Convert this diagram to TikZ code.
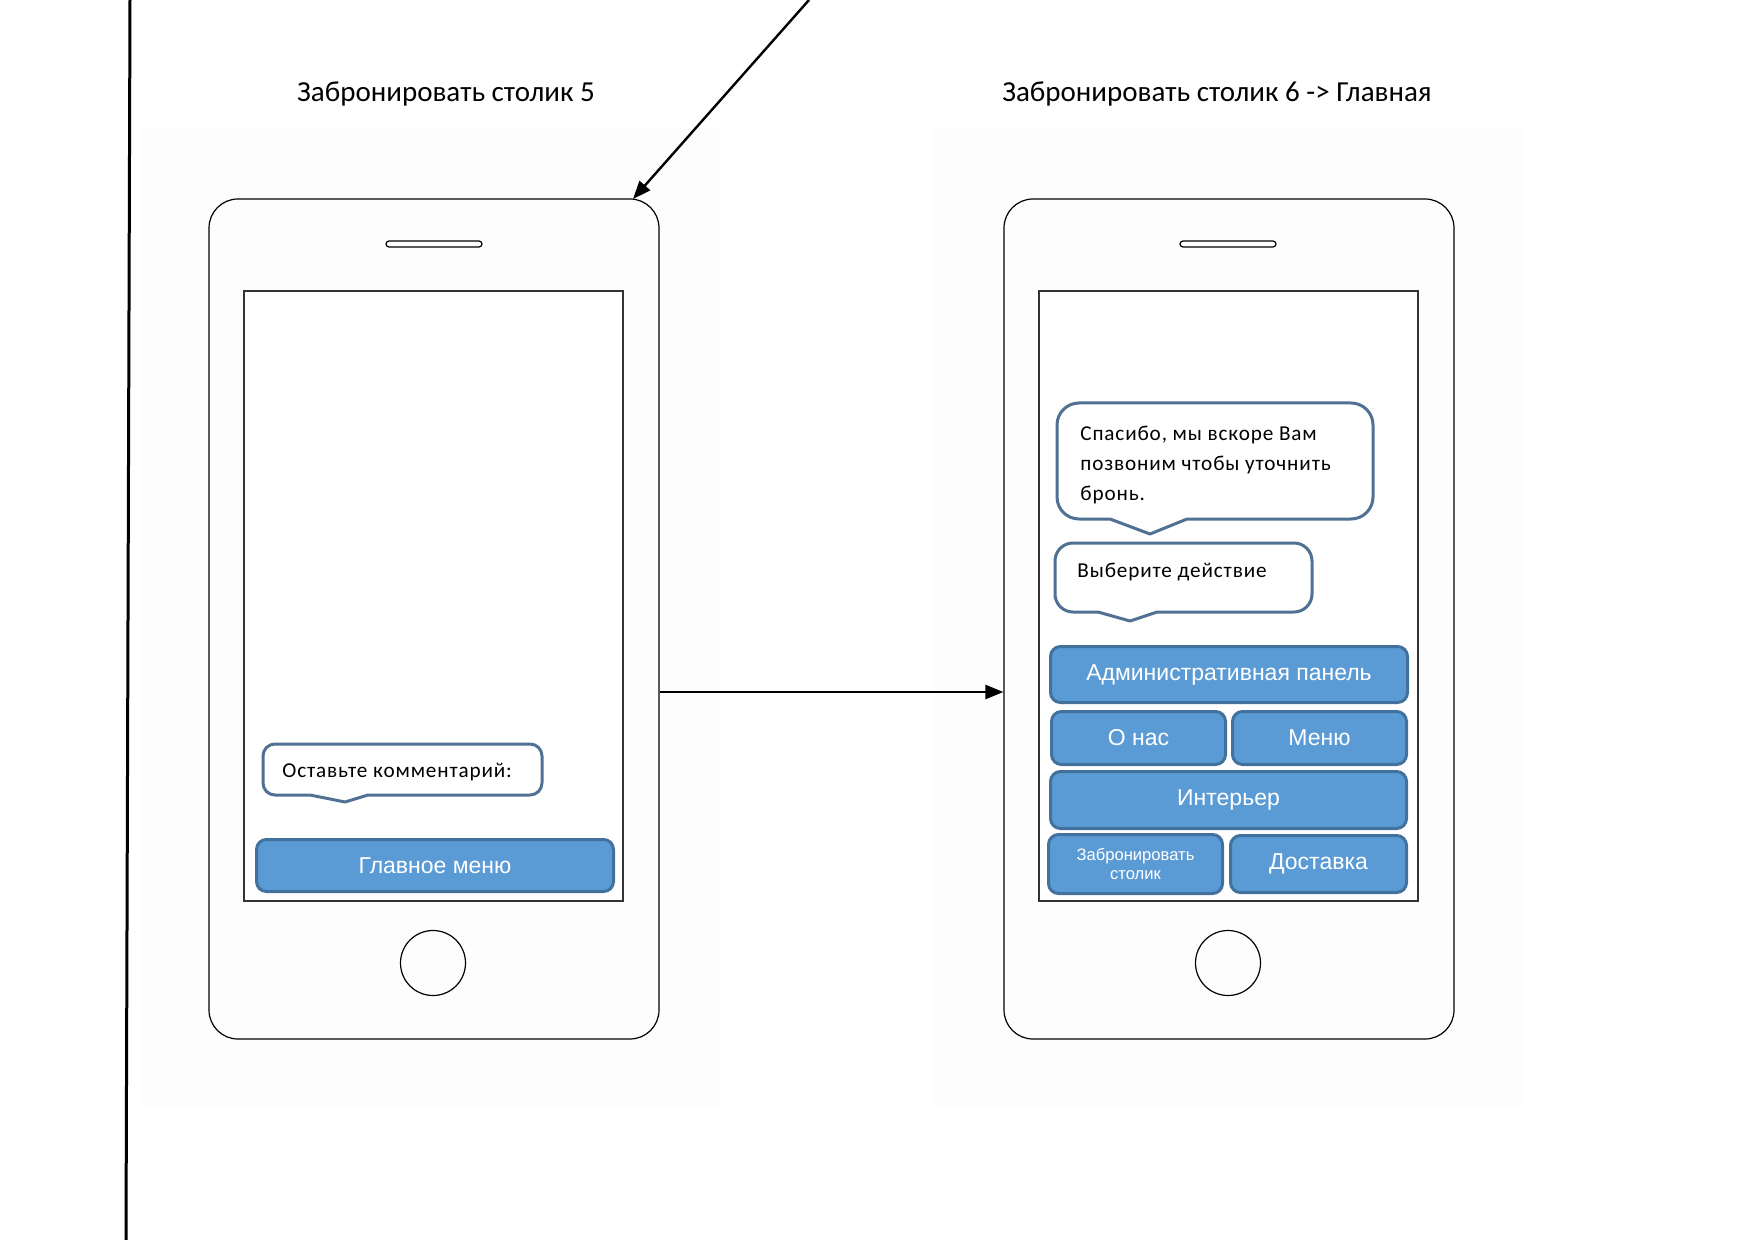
\documentclass[tikz,border=0pt]{standalone}
\usepackage{fontspec}
\setmainfont{Carlito}
\newfontfamily\arialf{Liberation Sans}
\newfontfamily\bubfont[LetterSpace=4]{Carlito}
\usetikzlibrary{arrows.meta}
\definecolor{btnfill}{RGB}{91,155,213}
\definecolor{btndraw}{RGB}{65,113,156}
\definecolor{bubdraw}{RGB}{80,112,148}
\definecolor{bgc}{RGB}{253,253,253}
\begin{document}
\begin{tikzpicture}[x=0.5pt,y=-0.5pt,
  phone/.style={draw=black,line width=0.6pt,rounded corners=14.5pt,minimum width=225pt,minimum height=420pt,inner sep=0pt},
  screen/.style={draw=black!80,line width=0.6pt,minimum width=189.5pt,minimum height=305pt,inner sep=0pt,fill=white},
  speaker/.style={draw=black,line width=0.6pt,rounded corners=1.5pt,minimum width=48pt,minimum height=3pt,inner sep=0pt,fill=white},
  homebtn/.style={circle,draw=black,line width=0.6pt,minimum size=32.5pt,inner sep=0pt},
  btn/.style={draw=btndraw,fill=btnfill,line width=1.5pt,rounded corners=5pt,inner sep=0pt,text=white,font=\arialf\fontsize{11.5}{13}\selectfont},
  bubble/.style={draw=bubdraw,line width=1.5pt,fill=white,line join=round},
  bubtext/.style={inner sep=0pt,font=\bubfont\fontsize{10.6}{15}\selectfont,align=left},
  title/.style={font=\fontsize{14.5}{17}\selectfont,inner sep=0pt,anchor=base},
  arr/.style={line width=1.2pt,-{Triangle[length=9pt,width=7pt]}}
]
\useasboundingbox (0,0) rectangle (1754,1240);
% faint backgrounds
\fill[bgc] (140,128) rectangle (721,1107);
\fill[bgc] (934,128) rectangle (1522,1107);

% titles
\node[title] (t1) at (446,102) {Забронировать столик 5};
\node[title] (t2) at (1217,102) {Забронировать столик 6 -> Главная};

% phones
\node[phone] (p1) at (434,619) {};
\node[phone] (p2) at (1229,619) {};
\node[screen] (s1) at (433.5,596) {};
\node[screen] (s2) at (1228.5,596) {};
\node[speaker] (sp1) at (434,244) {};
\node[speaker] (sp2) at (1228,244) {};
\node[homebtn] (h1) at (433,963) {};
\node[homebtn] (h2) at (1228,963) {};

% bubble: comment
\draw[bubble] (263,770) [rounded corners=6pt] -- (263,744) -- (542,744) -- (542,795) -- (390,795) [sharp corners] -- (368,795) -- (345,802) -- (310,795) -- (290,795) [rounded corners=6pt] -- (263,795) -- cycle;
\node[bubtext,anchor=base west] (c1) at (282,777) {Оставьте комментарий:};

% bubble: thanks
\draw[bubble] (1057,460) [rounded corners=11pt] -- (1057,403) -- (1373,403) -- (1373,519) -- (1220,519) [sharp corners] -- (1187,519) -- (1150,534) -- (1110,519) -- (1090,519) [rounded corners=11pt] -- (1057,519) -- cycle;
\node[bubtext,anchor=west] (c2) at (1080,465) {Спасибо, мы вскоре Вам\\позвоним чтобы уточнить\\бронь.};

% bubble: choose action
\draw[bubble] (1055,580) [rounded corners=9pt] -- (1055,543) -- (1312,543) -- (1312,612) -- (1180,612) [sharp corners] -- (1157,612) -- (1130,621) -- (1098,612) -- (1080,612) [rounded corners=9pt] -- (1055,612) -- cycle;
\node[bubtext,anchor=base west] (c3) at (1077,577) {Выберите действие};

% buttons
\node[btn,minimum width=178.5pt,minimum height=26pt] (bmain) at (435,865.5) {Главное меню};
\node[btn,minimum width=178.5pt,minimum height=28pt] (badmin) at (1229,674.5) {Административная панель};
\node[btn,minimum width=87pt,minimum height=26.5pt] (bonas) at (1138.5,738) {О нас};
\node[btn,minimum width=87pt,minimum height=26.5pt] (bmenu) at (1319.5,738) {Меню};
\node[btn,minimum width=178pt,minimum height=28.5pt] (binter) at (1228.5,800) {Интерьер};
\node[btn,minimum width=87pt,minimum height=29.5pt,align=center,font=\arialf\fontsize{8.3}{9.5}\selectfont] (bzab) at (1135.5,864) {Забронировать\\столик};
\node[btn,minimum width=88pt,minimum height=28.5pt] (bdost) at (1318.5,864) {Доставка};

% left vertical line
\coordinate (l1) at (130,0);
\coordinate (l2) at (126,1240);
\draw[line width=1.5pt] (l1) -- (l2);

% arrows
\coordinate (a1s) at (809,0);
\coordinate (a1e) at (633,199);
\draw[arr] (a1s) -- (a1e);
\coordinate (hy) at (0,692);
\draw[arr] (p1.east |- hy) -- (p2.west |- hy);
\end{tikzpicture}
\end{document}
